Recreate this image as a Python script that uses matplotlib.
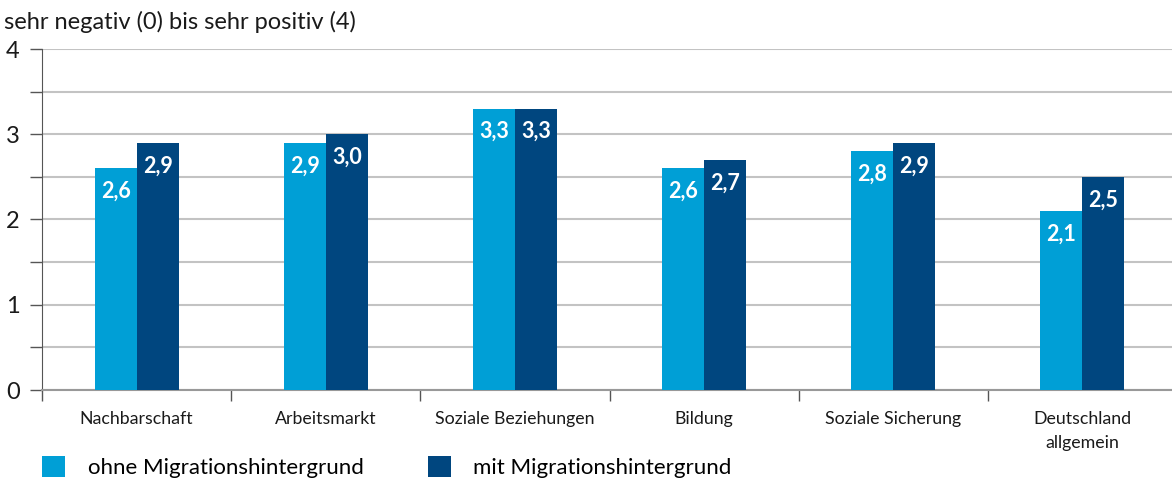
import matplotlib
matplotlib.use("Agg")
import numpy as np
from matplotlib import pyplot as plt
from matplotlib.patches import Patch

plt.rcParams["font.family"] = ["Lato", "DejaVu Sans"]

categories = ["Nachbarschaft", "Arbeitsmarkt", "Soziale Beziehungen", "Bildung",
              "Soziale Sicherung", "Deutschland\nallgemein"]
ohne = [2.6, 2.9, 3.3, 2.6, 2.8, 2.1]
mit = [2.9, 3.0, 3.3, 2.7, 2.9, 2.5]
series_names = ["ohne Migrationshintergrund", "mit Migrationshintergrund"]
y_title = "sehr negativ (0) bis sehr positiv (4)"

LIGHT = "#009fd6"
DARK = "#00467f"
GRID = "#c3c3c3"

fig = plt.figure(figsize=(11.72, 4.86), dpi=100, facecolor="w")
ax = fig.add_axes([42 / 1172, 96 / 486, 1135 / 1172, 341 / 486])

x = np.arange(len(categories))
w = 0.222
bars1 = ax.bar(x - w / 2, ohne, w, color=LIGHT, zorder=3)
bars2 = ax.bar(x + w / 2, mit, w, color=DARK, zorder=3)

for bars, vals in ((bars1, ohne), (bars2, mit)):
    for b, v in zip(bars, vals):
        ax.annotate(("%.1f" % v).replace(".", ","),
                    xy=(b.get_x() + b.get_width() / 2, v),
                    xytext=(0, -23), textcoords="offset pixels",
                    ha="center", va="center", color="white",
                    fontsize=15.5, fontweight="bold", zorder=4)

ax.set_xlim(-0.5, len(categories) - 0.5)
ax.set_ylim(0, 4)
ax.set_yticks([0, 1, 2, 3, 4])
ax.set_yticks(np.arange(0.5, 4, 1.0), minor=True)
ax.yaxis.grid(True, which="both", color=GRID, linewidth=1.5, zorder=0)
ax.tick_params(axis="y", which="both", length=9, width=1, color="#555555",
               labelsize=17, pad=7, labelcolor="#1a1a1a")

ax.set_xticks(x)
ax.set_xticklabels(categories, fontsize=12.8, color="#1a1a1a", linespacing=1.6)
ax.set_xticks(np.arange(-0.5, len(categories), 1.0), minor=True)
ax.tick_params(axis="x", which="major", length=0, pad=15)
ax.tick_params(axis="x", which="minor", length=8, width=1, color="#555555")

for side in ("top", "right"):
    ax.spines[side].set_visible(False)
ax.spines["left"].set_color("#555555")
ax.spines["bottom"].set_color("#999999")
ax.spines["bottom"].set_linewidth(1.5)

fig.text(4 / 1172, 1 - 22 / 486, y_title, fontsize=17, va="center", ha="left",
         color="#1a1a1a")

handles = [Patch(facecolor=LIGHT), Patch(facecolor=DARK)]
fig.legend(handles, series_names, loc="lower left",
           bbox_to_anchor=(22 / 1172, -12 / 486), ncol=2, frameon=False,
           fontsize=16, handlelength=1.05, handleheight=1.05,
           handletextpad=1.0, columnspacing=2.9)

plt.savefig("out.png", dpi=100)
